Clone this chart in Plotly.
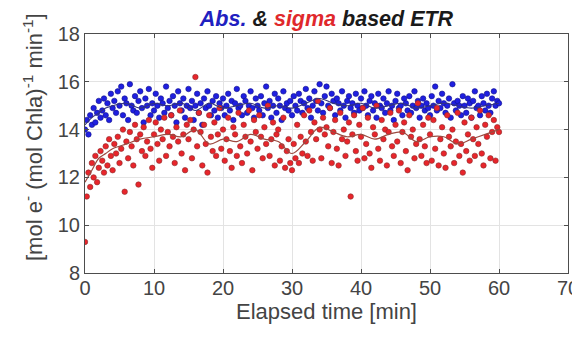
import plotly.graph_objects as go

STEP = 0.25

blue_vals = [
    14.0, 14.4, 13.8, 14.6, 14.2, 14.9, 14.3, 14.7, 15.2, 14.5, 14.8, 15.3, 14.6, 15.1, 14.4, 15.5, 14.9, 15.2, 14.7, 15.6,
    15.0, 15.8, 14.6, 15.3, 15.1, 14.4, 15.9, 15.0, 14.8, 15.4, 14.7, 15.2, 15.6, 14.9, 14.3, 15.3, 15.0, 15.7, 14.6, 15.1,
    14.8, 15.5, 15.0, 14.5, 15.3, 15.1, 14.7, 15.8, 14.9, 15.2, 14.6, 15.4, 15.0, 14.3, 15.6, 15.1, 14.8, 15.3, 14.5, 15.0,
    15.7, 14.9, 15.2, 14.4, 15.0, 15.5, 14.7, 15.1, 14.2, 15.3, 14.9, 15.6, 15.0, 14.6, 15.2, 14.8, 15.4, 14.5, 15.1, 14.9,
    15.3, 14.6, 15.0, 15.5, 14.8, 15.2, 14.4, 15.1, 15.7, 14.9, 15.0, 14.6, 15.4, 15.2, 14.7, 15.0, 15.6, 14.9, 14.5, 15.3,
    15.0, 14.8, 15.4, 14.6, 15.1, 15.8, 14.9, 15.2, 14.5, 15.0, 15.5, 14.7, 15.3, 15.0, 14.4, 15.6, 14.9, 15.1, 14.8, 15.2,
    14.6, 15.4, 15.0, 14.8, 15.5, 15.2, 14.7, 15.1, 15.7, 14.9, 15.3, 14.5, 15.0, 15.6, 15.2, 14.8, 15.9, 15.1, 14.7, 15.4,
    15.8, 15.0, 14.9, 15.5, 15.2, 14.6, 15.3, 15.1, 14.8, 15.6, 15.0, 14.5, 15.2, 15.4, 14.9, 15.1, 14.7, 15.5, 15.0, 14.8,
    15.3, 14.9, 15.6, 15.0, 14.6, 15.2, 15.4, 14.8, 15.1, 14.5, 15.5, 15.0, 14.9, 15.3, 14.7, 15.1, 15.6, 14.8, 15.0, 14.4,
    15.2, 15.5, 14.9, 15.0, 14.6, 15.3, 15.1, 14.8, 15.4, 14.7, 15.0, 15.6, 14.9, 15.2, 14.5, 15.0, 15.3, 14.8, 15.1, 14.9,
    14.6, 15.4, 15.0, 15.8, 14.8, 15.2, 14.9, 15.5, 15.1, 14.7, 15.0, 15.3, 14.5, 15.9, 15.1, 14.8, 15.2, 15.0, 14.6, 15.4,
    15.0, 14.7, 15.3, 15.1, 14.5, 15.2, 15.6, 14.9, 15.0, 14.6, 15.4, 15.1, 14.8, 15.5, 15.0, 14.7, 15.3, 15.6, 15.0, 15.2,
    15.1,
]

red_vals = [
    9.3, 11.2, 12.2, 11.6, 12.6, 12.0, 12.9, 11.8, 12.4, 13.1, 12.7, 12.2, 13.3, 12.5, 13.6, 12.9, 12.3, 13.4, 13.0, 13.7,
    12.6, 13.2, 14.0, 11.4, 13.5, 12.8, 13.9, 13.3, 12.5, 14.2, 13.6, 11.7, 13.8, 13.1, 14.1, 12.9, 13.5, 14.4, 13.2, 12.4,
    13.8, 14.3, 13.4, 12.7, 14.0, 13.6, 14.5, 12.9, 13.9, 13.3, 14.6, 13.7, 12.6, 14.1, 13.5, 14.8, 13.0, 13.8, 12.3, 14.2,
    13.6, 14.4, 12.8, 14.0, 16.2, 13.3, 14.7, 13.9, 12.5, 14.2, 13.4, 12.2, 14.6, 13.7, 13.1, 14.3, 12.9, 13.8, 14.9, 13.2,
    14.0, 12.7, 13.6, 14.5, 13.1, 12.4, 14.1, 13.8, 12.9, 14.7, 13.3, 12.6, 14.2, 13.7, 13.0, 14.8, 13.5, 12.3, 14.4, 13.9,
    13.2, 14.6, 13.7, 12.8, 14.1, 13.4, 15.0, 12.9, 13.6, 14.3, 12.5, 13.8, 14.0, 12.7, 13.3, 14.5, 12.4, 13.1, 13.6, 12.6,
    12.3, 13.4, 12.8, 14.2, 12.6, 13.7, 13.0, 14.6, 13.5, 12.9, 14.8, 13.9, 12.7, 14.3, 13.6, 15.2, 14.0, 12.8, 14.5, 13.8,
    14.1, 13.3, 14.9, 12.6, 13.9, 14.4, 13.2, 12.5, 14.7, 13.6, 14.0, 12.9, 13.5, 14.3, 11.2, 13.8, 14.6, 13.1, 12.7, 14.2,
    13.7, 14.9, 12.8, 13.4, 14.5, 13.0, 12.4, 14.1, 13.8, 15.0, 13.2, 12.7, 14.4, 13.6, 14.0, 12.5, 13.9, 14.7, 13.3, 12.9,
    14.2, 13.5, 14.8, 12.6, 13.9, 14.3, 13.1, 12.3, 14.6, 13.7, 14.0, 12.8, 13.4, 15.1, 13.6, 12.9, 14.2, 13.3, 12.6, 14.5,
    13.8, 12.7, 14.4, 13.2, 14.9, 12.5, 13.6, 14.1, 13.0, 12.4, 14.6, 13.7, 13.3, 14.0, 12.6, 13.5, 14.7, 12.9, 13.4, 12.2,
    14.3, 13.1, 13.8, 12.7, 14.5, 13.6, 12.9, 14.1, 13.4, 14.8, 13.0, 12.5, 14.2, 13.7, 14.6, 12.8, 13.9, 14.4, 12.7, 14.1,
    13.9,
]

smooth_t = [0, 1, 2, 3, 4, 6, 8, 10, 12, 14, 16, 18, 20, 22, 24, 26, 28, 30, 32, 34, 36, 38, 40, 42, 44, 46, 48, 50, 52, 54, 56, 58, 60]
blue_smooth = [14.2, 14.5, 14.7, 14.9, 15.0, 15.1, 14.9, 15.1, 15.0, 15.1, 14.8, 15.1, 14.9, 15.0, 15.1, 14.9, 15.0, 14.9, 15.1, 15.3, 15.1, 15.0, 15.1, 14.9, 15.0, 15.1, 14.9, 15.0, 15.1, 15.0, 14.9, 15.0, 15.1]
red_smooth = [11.8, 12.3, 12.8, 13.0, 13.2, 13.4, 13.6, 13.7, 13.8, 13.7, 14.0, 13.4, 13.6, 13.5, 13.8, 13.6, 13.5, 13.0, 13.5, 14.1, 13.9, 13.7, 13.8, 13.6, 13.8, 13.9, 13.5, 13.7, 13.7, 13.4, 13.6, 13.8, 14.0]

x_ticks = [0, 10, 20, 30, 40, 50, 60, 70]
y_ticks = [8, 10, 12, 14, 16, 18]

t_blue = [i * STEP for i in range(len(blue_vals))]
t_red = [i * STEP for i in range(len(red_vals))]

BLUE = "#1f1fe0"
RED = "#e8252b"
FONT = "Liberation Sans, Arial"
TXT = "#444444"

W, H = 572, 329
ML, MR, MT, MB = 77, 12, 26, 64

fig = go.Figure()
fig.add_trace(go.Scatter(x=t_blue, y=blue_vals, mode="markers",
                         marker=dict(color=BLUE, size=5.5, line=dict(color="#10108a", width=0.6)),
                         showlegend=False))
fig.add_trace(go.Scatter(x=t_red, y=red_vals, mode="markers",
                         marker=dict(color=RED, size=5.5, line=dict(color="#8a2a2a", width=0.6)),
                         showlegend=False))
fig.add_trace(go.Scatter(x=smooth_t, y=blue_smooth, mode="lines", line=dict(color="#33337a", width=1.1, shape="spline"),
                         showlegend=False))
fig.add_trace(go.Scatter(x=smooth_t, y=red_smooth, mode="lines", line=dict(color="#9c4a40", width=1.2, shape="spline"),
                         showlegend=False))

axis_common = dict(showgrid=True, gridcolor="#e3e3e3", gridwidth=1, showline=True, linecolor="#4d4d4d", linewidth=1,
                   mirror="ticks", ticks="inside", ticklen=4, tickcolor="#4d4d4d", zeroline=False, automargin=False,
                   tickfont=dict(family=FONT, size=20, color=TXT))

plot_h = H - MT - MB
title_center_fig = 129
fig.update_layout(
    width=W, height=H,
    margin=dict(l=ML, r=MR, t=MT, b=MB),
    paper_bgcolor="white", plot_bgcolor="white",
    title=dict(text="<b><i><span style='color:#2020c0'>Abs.</span> &amp; <span style='color:#e0282c'>sigma</span> based ETR</i></b>",
               x=0.5, xref="paper", xanchor="center", y=1 - 10 / H, yref="container", yanchor="middle",
               font=dict(family=FONT, size=21.5, color="#1a1a1a")),
    xaxis=dict(range=[0, 70], tickvals=x_ticks, ticktext=[str(v) for v in x_ticks], ticklabelstandoff=-3,
               title=dict(text="Elapsed time [min]", standoff=0,
                          font=dict(family=FONT, size=22, color=TXT)),
               **axis_common),
    yaxis=dict(range=[8, 18], tickvals=y_ticks, ticktext=[str(v) for v in y_ticks],
               **axis_common),
    annotations=[dict(text="[mol e<sup>-</sup> (mol Chla)<sup>-1</sup> min<sup>-1</sup>]",
                      textangle=-90, xref="paper", yref="paper", x=0, xshift=25 - ML,
                      y=1 - (title_center_fig - MT) / plot_h, xanchor="center", yanchor="middle",
                      showarrow=False, font=dict(family=FONT, size=22, color=TXT))],
)

fig.write_html("out.html")
